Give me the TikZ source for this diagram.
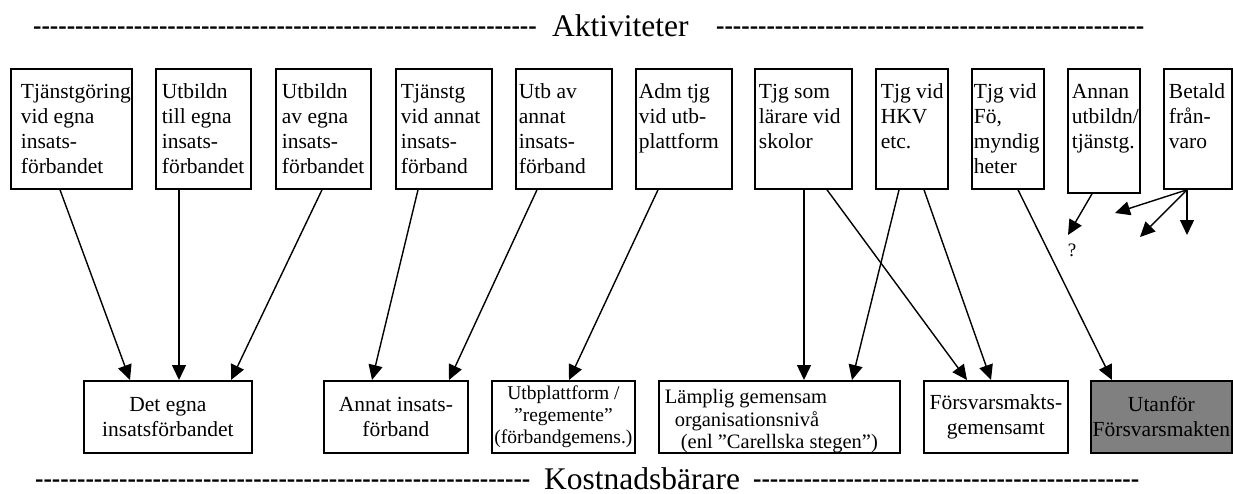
\documentclass[tikz,border=0pt]{standalone}
\usepackage{fontspec}
\setmainfont{Liberation Serif}
\usetikzlibrary{arrows.meta}
\definecolor{fillgray}{RGB}{128,128,128}
\ExplSyntaxOn
\cs_new:Npn \mydashes #1 { \scalebox{0.8}[1]{ \prg_replicate:nn {#1} { -\kern0pt } } }
\ExplSyntaxOff
\newcommand{\topbox}[4]{\parbox[c][#2][t]{#1}{\fontsize{21.5}{24.7}\selectfont\raggedright\leftskip=#3\relax\rule{0pt}{30pt}#4}}
\tikzset{
  tbox/.style={draw, line width=1.8pt, inner sep=0pt, anchor=north west},
  bbox/.style={draw, line width=1.8pt, inner sep=0pt, anchor=north west, minimum height=72pt, align=center, font=\fontsize{21.5}{25}\selectfont},
  arr/.style={-{Triangle[length=15pt,width=14pt]}, line width=1.4pt},
  dashtxt/.style={font=\fontsize{31.5}{36}\selectfont, inner sep=0pt, anchor=base west},
  titletxt/.style={font=\fontsize{31.5}{36}\selectfont, inner sep=0pt, anchor=base west},
  qtxt/.style={font=\fontsize{19}{22}\selectfont, inner sep=0pt}
}
\begin{document}
\begin{tikzpicture}[x=1pt, y=-1pt]
\useasboundingbox (0,0) rectangle (1233,493);
% titles
\node[dashtxt] (tdl) at (33,35) {\mydashes{60}};
\node[titletxt] (ttl) at (552,36) {Aktiviteter};
\node[dashtxt] (tdr) at (716,35) {\mydashes{51}};
\node[dashtxt] (bdl) at (35,488.5) {\mydashes{59}};
\node[titletxt] (btl) at (544,489) {Kostnadsbärare};
\node[dashtxt] (bdr) at (753,488.5) {\mydashes{46}};
% top boxes
\node[tbox] (a1) at (10,68) {\topbox{121pt}{120pt}{10pt}{Tjänstgöring\\vid egna\\insats-\\förbandet}};
\node[tbox] (a2) at (155,68) {\topbox{95pt}{120pt}{6pt}{Utbildn\\till egna\\insats-\\förbandet}};
\node[tbox] (a3) at (275,68) {\topbox{95pt}{120pt}{6pt}{Utbildn\\av egna\\insats-\\förbandet}};
\node[tbox] (a4) at (395,68) {\topbox{96pt}{120pt}{5pt}{Tjänstg\\vid annat\\insats-\\förband}};
\node[tbox] (a5) at (515,68) {\topbox{96pt}{120pt}{3pt}{Utb av\\annat\\insats-\\förband}};
\node[tbox] (a6) at (635,68) {\topbox{96pt}{120pt}{3pt}{Adm tjg\\vid utb-\\plattform}};
\node[tbox] (a7) at (754,68) {\topbox{97pt}{120pt}{4pt}{Tjg som\\lärare vid\\skolor}};
\node[tbox] (a8) at (875,68) {\topbox{72pt}{120pt}{5pt}{Tjg vid\\HKV\\etc.}};
\node[tbox] (a9) at (971,68) {\topbox{72pt}{120pt}{2pt}{Tjg vid\\Fö,\\myndig\\heter}};
\node[tbox] (a10) at (1067,68) {\topbox{72pt}{124pt}{4pt}{Annan\\utbildn/\\tjänstg.}};
\node[tbox] (a11) at (1163,68) {\topbox{68pt}{120pt}{5pt}{Betald\\från-\\varo}};
% bottom boxes
\node[bbox, minimum width=168pt] (b1) at (83,380) {Det egna\\insatsförbandet};
\node[bbox, minimum width=144pt] (b2) at (323,380) {Annat insats-\\förband};
\node[bbox, minimum width=143pt, font=\fontsize{19.5}{22}\selectfont] (b3) at (491,380) {Utbplattform /\\”regemente”\\(förbandgemens.)};
\node[tbox] (b4) at (658,380) {\parbox[c][72pt][t]{241pt}{\fontsize{20.5}{22.5}\selectfont\leftskip=6pt\rule{0pt}{23pt}Lämplig gemensam\\\hspace*{10pt}organisationsnivå\\\hspace*{16pt}(enl ”Carellska stegen”)}};
\node[bbox, minimum width=144pt] (b5) at (923,380) {Försvarsmakts-\\gemensamt};
\node[bbox, minimum width=141pt, fill=fillgray] (b6) at (1090,380) {Utanför\\Försvarsmakten};
% free ends
\coordinate (q1) at (1068,235);
\coordinate (f1) at (1115,213);
\coordinate (f2) at (1140,237);
\coordinate (f3) at (1187,235);
\node[qtxt] (qm) at (1072,250) {?};
% connectors
\draw[arr] ([xshift=50pt]a1.south west) -- ([xshift=47pt]b1.north west);
\draw[arr] ([xshift=24pt]a2.south west) -- ([xshift=96pt]b1.north west);
\draw[arr] ([xshift=47pt]a3.south west) -- ([xshift=148pt]b1.north west);
\draw[arr] ([xshift=23pt]a4.south west) -- ([xshift=49pt]b2.north west);
\draw[arr] ([xshift=22pt]a5.south west) -- ([xshift=126pt]b2.north west);
\draw[arr] ([xshift=23pt]a6.south west) -- ([xshift=78pt]b3.north west);
\draw[arr] ([xshift=50pt]a7.south west) -- ([xshift=146pt]b4.north west);
\draw[arr] ([xshift=73pt]a7.south west) -- ([xshift=44pt]b5.north west);
\draw[arr] ([xshift=24pt]a8.south west) -- ([xshift=194pt]b4.north west);
\draw[arr] ([xshift=49pt]a8.south west) -- ([xshift=68pt]b5.north west);
\draw[arr] ([xshift=47pt]a9.south west) -- ([xshift=22pt]b6.north west);
\draw[arr] ([xshift=25pt]a10.south west) -- (q1);
\draw[arr] ([xshift=24pt]a11.south west) -- (f1);
\draw[arr] ([xshift=24pt]a11.south west) -- (f2);
\draw[arr] ([xshift=24pt]a11.south west) -- (f3);
\end{tikzpicture}
\end{document}
